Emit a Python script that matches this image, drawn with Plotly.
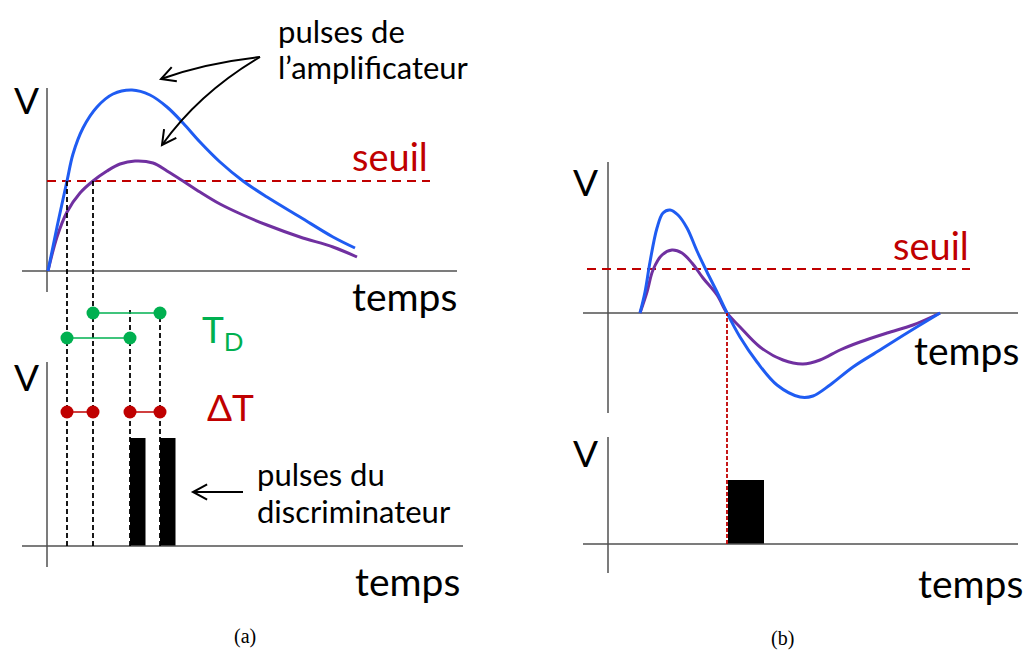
import math
import plotly.graph_objects as go

W, H = 1024, 652
PX = 100  # pixels per data unit on every panel axis

# ---------------- DATA (time t, voltage V, arbitrary units) ----------------
# (a) amplifier pulses (unipolar), threshold and discriminator output
a_blue_t = [0.01, 0.10, 0.20, 0.26, 0.36, 0.50, 0.66, 0.85, 1.03, 1.20, 1.36, 1.53, 1.73, 1.96, 2.20, 2.53, 2.86, 3.08]
a_blue_v = [0.00, 0.44, 0.90, 1.17, 1.43, 1.64, 1.77, 1.81, 1.76, 1.64, 1.48, 1.29, 1.09, 0.90, 0.74, 0.54, 0.34, 0.23]
a_purple_t = [0.01, 0.10, 0.20, 0.33, 0.46, 0.60, 0.73, 0.88, 1.06, 1.20, 1.36, 1.53, 1.73, 1.96, 2.20, 2.53, 2.86, 3.10]
a_purple_v = [0.00, 0.34, 0.59, 0.78, 0.90, 1.00, 1.07, 1.10, 1.08, 1.00, 0.90, 0.79, 0.67, 0.56, 0.46, 0.34, 0.24, 0.14]
a_threshold = 0.90
a_threshold_span = [0.0, 3.83]
a_cross_t = [0.20, 0.46]          # threshold crossing times (blue, purple)
a_out_t = [0.83, 1.13]            # discriminator output times (crossing + T_D)
a_td_levels = [2.08, 2.33]        # levels of the T_D markers (blue, purple)
a_dt_level = 1.34                 # level of the Delta T markers
a_out_marker_top = 2.36
a_bar_width = 0.155
a_bar_height = 1.08

# (b) bipolar pulses, zero-crossing discriminator
b_blue_t = [0.32, 0.37, 0.42, 0.49, 0.55, 0.62, 0.70, 0.79, 0.89, 0.99, 1.09, 1.19, 1.32, 1.49, 1.69, 1.92, 2.05, 2.22, 2.45, 2.72, 2.99, 3.32]
b_blue_v = [0.00, 0.21, 0.51, 0.85, 1.00, 1.03, 0.98, 0.85, 0.62, 0.41, 0.21, 0.00, -0.24, -0.49, -0.72, -0.84, -0.83, -0.72, -0.54, -0.37, -0.20, 0.00]
b_purple_t = [0.32, 0.39, 0.45, 0.54, 0.64, 0.74, 0.84, 0.95, 1.09, 1.19, 1.32, 1.52, 1.75, 1.95, 2.12, 2.32, 2.52, 2.79, 3.05, 3.32]
b_purple_v = [0.00, 0.21, 0.43, 0.58, 0.63, 0.60, 0.50, 0.35, 0.18, 0.00, -0.14, -0.34, -0.47, -0.51, -0.47, -0.37, -0.29, -0.20, -0.12, 0.00]
b_threshold = 0.44
b_threshold_span = [-0.21, 3.62]
b_zero_cross_t = 1.19
b_bar_start = 1.20
b_bar_width = 0.36
b_bar_height = 0.64

# text labels
lbl_v = "V"
lbl_t = "temps"
lbl_seuil = "seuil"
lbl_amp = ["pulses de", "l\u2019amplificateur"]
lbl_disc = ["pulses du", "discriminateur"]
lbl_td = "T<sub>D</sub>"
lbl_dt = "\u0394T"
captions = ["(a)", "(b)"]

# ---------------- LAYOUT CONSTANTS (pixel origins of the four panels) ----------------
A_X0, B_X0 = 47, 608                 # pixel x of t = 0
A_TOP_Y0, A_BOT_Y0 = 271, 546        # pixel y of V = 0
B_TOP_Y0, B_BOT_Y0 = 313, 544

BLUE = "#1f5cf2"
PURPLE = "#7030a0"
DARKRED = "#c00000"
GREEN = "#00b050"
AXIS = "#505050"
FONT = "Lato"
SMOOTH = 1.0


def xr(x0, d0, d1):
    return [(d0 * W - x0) / PX, (d1 * W - x0) / PX]


def yr(y0):
    return [(y0 - H) / PX, y0 / PX]


def P(x, y):
    return x / W, 1 - y / H


fig = go.Figure()


def line(x, y, xa, ya, color, width, dash=None, shape="linear"):
    ln = dict(color=color, width=width, dash=dash, shape=shape)
    if shape == "spline":
        ln["smoothing"] = SMOOTH
    fig.add_trace(go.Scatter(x=x, y=y, xaxis=xa, yaxis=ya, mode="lines", line=ln,
                             hoverinfo="skip", showlegend=False))


# ---- axes of the four panels ----
line([-0.25, 4.10], [0, 0], "x", "y", AXIS, 1.5)
line([0, 0], [1.83, -0.21], "x", "y", AXIS, 1.5)
line([-0.25, 4.16], [0, 0], "x", "y2", AXIS, 1.5)
line([0, 0], [1.84, -0.21], "x", "y2", AXIS, 1.5)
line([-0.25, 4.10], [0, 0], "x2", "y3", AXIS, 1.5)
line([0, 0], [1.51, -1.00], "x2", "y3", AXIS, 1.5)
line([-0.25, 4.10], [0, 0], "x2", "y4", AXIS, 1.5)
line([0, 0], [1.07, -0.29], "x2", "y4", AXIS, 1.5)

# ---- panel (a) top ----
line(a_threshold_span, [a_threshold] * 2, "x", "y", DARKRED, 2, "9px,6px")
line(a_purple_t, a_purple_v, "x", "y", PURPLE, 3, shape="spline")
line(a_blue_t, a_blue_v, "x", "y", BLUE, 3, shape="spline")

# ---- panel (a) bottom ----
thr_in_bottom = a_threshold + (A_BOT_Y0 - A_TOP_Y0) / PX
for t in a_cross_t:
    line([t, t], [0, thr_in_bottom], "x", "y2", "black", 1.8, "5px,3px")
for t in a_out_t:
    line([t, t], [0, a_out_marker_top], "x", "y2", "black", 1.8, "5px,3px")

fig.add_trace(go.Bar(x=[t + a_bar_width / 2 for t in a_out_t], y=[a_bar_height] * len(a_out_t),
                     width=[a_bar_width] * len(a_out_t), xaxis="x", yaxis="y2",
                     marker=dict(color="black", line=dict(width=0)), hoverinfo="skip", showlegend=False))

for c, o, lev in zip(a_cross_t, a_out_t, a_td_levels):
    fig.add_trace(go.Scatter(x=[c, o], y=[lev, lev], xaxis="x", yaxis="y2", mode="lines+markers",
                             line=dict(color=GREEN, width=1.5), marker=dict(color=GREEN, size=13),
                             hoverinfo="skip", showlegend=False))
for pair in (a_cross_t, a_out_t):
    fig.add_trace(go.Scatter(x=pair, y=[a_dt_level] * 2, xaxis="x", yaxis="y2", mode="lines+markers",
                             line=dict(color=DARKRED, width=1.5), marker=dict(color=DARKRED, size=13),
                             hoverinfo="skip", showlegend=False))

# ---- panel (b) ----
line(b_threshold_span, [b_threshold] * 2, "x2", "y3", DARKRED, 2, "9px,6px")
line(b_purple_t, b_purple_v, "x2", "y3", PURPLE, 3, shape="spline")
line(b_blue_t, b_blue_v, "x2", "y3", BLUE, 3, shape="spline")
line([b_zero_cross_t] * 2, [0, (B_BOT_Y0 - B_TOP_Y0) / PX], "x2", "y4", DARKRED, 1.8, "4px,2px")
fig.add_trace(go.Bar(x=[b_bar_start + b_bar_width / 2], y=[b_bar_height], width=[b_bar_width],
                     xaxis="x2", yaxis="y4", marker=dict(color="black", line=dict(width=0)),
                     hoverinfo="skip", showlegend=False))

# ---- text ----
ann = []


def text(s, x, y, size, color="black", xanchor="center", family=FONT):
    px_, py_ = P(x, y)
    ann.append(dict(text=s, x=px_, y=py_, xref="paper", yref="paper", xanchor=xanchor, yanchor="middle",
                    showarrow=False, font=dict(family=family, size=size, color=color)))


text(lbl_v, 26, 99, 37)
text(lbl_v, 26, 376, 37)
text(lbl_v, 585, 181, 37)
text(lbl_v, 585, 452, 37)
text(lbl_t, 404, 296, 39)
text(lbl_t, 407, 581, 39)
text(lbl_t, 966, 350, 39)
text(lbl_t, 970, 583, 39)
text(lbl_seuil, 390, 156, 38, DARKRED)
text(lbl_seuil, 931, 245, 38, DARKRED)
text(lbl_amp[0], 276, 31, 31, xanchor="left")
text(lbl_amp[1], 276, 67, 31, xanchor="left")
text(lbl_disc[0], 255, 474, 31, xanchor="left")
text(lbl_disc[1], 255, 511, 31, xanchor="left")
text(lbl_td, 223, 332, 37, GREEN)
text(lbl_dt, 230, 407, 37, DARKRED)
text(captions[0], 245, 636, 20, family="Liberation Serif")
text(captions[1], 782, 638, 20, family="Liberation Serif")

# ---- arrows (curved bodies and open heads as paper paths) ----
shapes = []


def seg_path(pts):
    s = ""
    for i, (x, y) in enumerate(pts):
        a, b = P(x, y)
        s += ("M" if i == 0 else " L") + f" {a},{b}"
    return s


def arrow(p0, c, p1, arm=16, half_angle=28):
    a, b = P(*p0)
    cx, cy = P(*c)
    d, e = P(*p1)
    shapes.append(dict(type="path", xref="paper", yref="paper",
                       path=f"M {a},{b} Q {cx},{cy} {d},{e}", line=dict(color="black", width=2)))
    dx, dy = p1[0] - c[0], p1[1] - c[1]
    n = math.hypot(dx, dy)
    ux, uy = dx / n, dy / n
    arms = []
    for s in (1, -1):
        ang = math.radians(half_angle) * s
        rx = ux * math.cos(ang) - uy * math.sin(ang)
        ry = ux * math.sin(ang) + uy * math.cos(ang)
        arms.append((p1[0] - arm * rx, p1[1] - arm * ry))
    shapes.append(dict(type="path", xref="paper", yref="paper",
                       path=seg_path([arms[0], p1, arms[1]]), line=dict(color="black", width=2)))


arrow((260, 57), (205, 63), (161, 79))
arrow((260, 57), (199, 93), (162, 145))
arrow((243, 492), (218, 492), (193, 492))

fig.update_layout(
    width=W, height=H, margin=dict(l=0, r=0, t=0, b=0),
    paper_bgcolor="white", plot_bgcolor="rgba(0,0,0,0)",
    showlegend=False, annotations=ann, shapes=shapes,
    xaxis=dict(domain=[0, 0.5], range=xr(A_X0, 0, 0.5), visible=False, anchor="y"),
    xaxis2=dict(domain=[0.5, 1], range=xr(B_X0, 0.5, 1), visible=False, anchor="y3"),
    yaxis=dict(domain=[0, 1], range=yr(A_TOP_Y0), visible=False, anchor="x"),
    yaxis2=dict(domain=[0, 1], range=yr(A_BOT_Y0), visible=False, anchor="x", overlaying="y"),
    yaxis3=dict(domain=[0, 1], range=yr(B_TOP_Y0), visible=False, anchor="x2"),
    yaxis4=dict(domain=[0, 1], range=yr(B_BOT_Y0), visible=False, anchor="x2", overlaying="y3"),
)

fig.write_html("out.html", config=dict(displayModeBar=False),
               post_script="document.body.style.margin='0px';"
                           "document.documentElement.style.overflow='hidden';")
